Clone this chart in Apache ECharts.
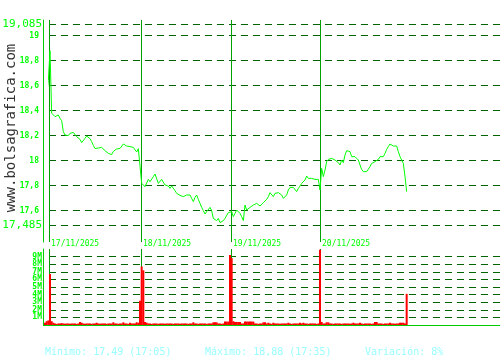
<!DOCTYPE html>
<html><head><meta charset="utf-8">
<script src="https://cdn.jsdelivr.net/npm/echarts@6/dist/echarts.min.js"></script>
<style>html,body{margin:0;padding:0;background:#fff}#c{width:500px;height:360px}</style>
</head><body><div id="c"></div>
<script>
const dates = ['17/11/2025', '18/11/2025', '19/11/2025', '20/11/2025'];
const dayStartIdx = [2.4, 57.6, 111.6, 165];
const priceTicks = [19.085, 19, 18.8, 18.6, 18.4, 18.2, 18, 17.8, 17.6, 17.485];
const priceExtremes = [19.085, 17.485];
const statTexts = ['Mínimo: 17,49 (17:05)', 'Máximo: 18,88 (17:35)', 'Variación: 8%'];
const watermark = 'www.bolsagrafica.com';

const priceDay1 = [18.418,18.418,18.64,18.88,18.38,18.392,18.352,18.36,18.365,18.338,
18.32,18.232,18.205,18.218,18.2,18.218,18.213,18.226,18.213,18.192,
18.178,18.17,18.144,18.157,18.178,18.197,18.189,18.176,18.152,18.122,
18.096,18.085,18.101,18.085,18.106,18.09,18.08,18.069,18.058,18.042,
18.048,18.074,18.09,18.093,18.106,18.098,18.109,18.133,18.144,18.117,
18.133,18.112,18.125,18.106,18.09,18.069,18.096,18.112];
const priceDay2 = [17.818,17.832,17.792,17.805,17.85,17.832,17.845,17.872,17.893,17.877,
17.818,17.805,17.85,17.85,17.805,17.813,17.797,17.778,17.797,17.786,
17.76,17.738,17.744,17.722,17.738,17.712,17.698,17.725,17.717,17.725,
17.698,17.672,17.706,17.725,17.69,17.658,17.626,17.6,17.573,17.592,
17.605,17.626,17.6,17.538,17.552,17.52,17.538,17.504,17.493,17.52,
17.538,17.552,17.584,17.597];
const priceDay3 = [17.592,17.552,17.578,17.605,17.592,17.578,17.552,17.52,17.645,17.605,
17.618,17.626,17.632,17.645,17.637,17.658,17.658,17.637,17.645,17.664,
17.658,17.69,17.712,17.744,17.738,17.712,17.738,17.725,17.744,17.733,
17.725,17.698,17.69,17.725,17.765,17.786,17.797,17.786,17.77,17.752,
17.778,17.797,17.818,17.832,17.845,17.877,17.858,17.845,17.858,17.845,
17.85,17.866,17.85];
const priceDay4 = [17.765,17.938,17.872,17.925,17.992,18.01,18.005,18.018,18.032,18.005,
18.0,17.984,17.965,18.005,17.984,18.045,18.08,18.072,18.072,18.032,
18.037,18.032,18.026,18.005,17.965,17.93,17.912,17.92,17.912,17.917,
17.952,17.978,17.984,17.992,18.005,18.01,18.032,18.018,18.032,18.058,
18.09,18.112,18.133,18.117,18.117,18.106,18.117,18.072,18.032,18.005,
17.978,17.872,17.752];

// volumes in millions
const volDay1 = [0.3,0.5,0.6,6.7,0.5,0.3,0.2,0.15,0.2,0.2,
0.25,0.2,0.15,0.2,0.2,0.15,0.2,0.2,0.2,0.15,
0.2,0.4,0.3,0.2,0.15,0.2,0.2,0.2,0.15,0.2,
0.2,0.3,0.2,0.15,0.2,0.2,0.2,0.15,0.2,0.2,
0.2,0.35,0.2,0.2,0.15,0.2,0.2,0.35,0.2,0.2,
0.15,0.3,0.2,0.2,0.2,0.35,0.3,3.2];
const volDay2 = [7.7,7.2,0.4,0.3,0.2,0.2,0.15,0.2,0.2,0.2,
0.15,0.2,0.2,0.2,0.15,0.2,0.2,0.2,0.2,0.15,
0.2,0.2,0.2,0.15,0.2,0.2,0.2,0.2,0.15,0.2,
0.2,0.35,0.2,0.2,0.15,0.2,0.2,0.2,0.2,0.15,
0.2,0.2,0.2,0.35,0.35,0.35,0.2,0.2,0.15,0.2,
0.45,0.45,0.45,9.2];
const volDay3 = [8.8,0.5,0.4,0.4,0.4,0.4,0.2,0.2,0.45,0.45,
0.45,0.45,0.45,0.45,0.2,0.2,0.15,0.2,0.2,0.35,
0.35,0.2,0.3,0.2,0.15,0.3,0.2,0.2,0.2,0.15,
0.2,0.2,0.2,0.2,0.3,0.2,0.15,0.2,0.2,0.2,
0.2,0.3,0.2,0.3,0.2,0.2,0.15,0.2,0.2,0.2,
0.2,0.15,0.2];
const volDay4 = [9.9,0.4,0.2,0.2,0.35,0.35,0.2,0.2,0.15,0.2,
0.2,0.2,0.2,0.15,0.2,0.2,0.2,0.2,0.15,0.2,
0.3,0.2,0.2,0.2,0.3,0.2,0.15,0.2,0.2,0.2,
0.2,0.15,0.2,0.4,0.4,0.2,0.2,0.2,0.15,0.2,
0.2,0.2,0.3,0.2,0.2,0.15,0.2,0.2,0.3,0.3,
0.3,0.2,4.1];

const prices = [].concat(priceDay1, priceDay2, priceDay3, priceDay4);
const volumes = [].concat(volDay1, volDay2, volDay3, volDay4);
const priceData = prices.map((v, i) => [i, v]);
const volData = volumes.map((v, i) => [i, v]);

const FONT = '"DejaVu Sans Mono", "Liberation Mono", monospace';
const GREEN = '#00ff00';
const AXIS = '#00cc00';
const DAYLINE = '#00a000';
const DASH = '#006400';
const fmtComma = v => String(v).replace('.', ',');

const chart = echarts.init(document.getElementById('c'), null, {renderer: 'canvas'});
chart.setOption({
  animation: false,
  backgroundColor: '#ffffff',
  grid: [
    {left: 49, right: 0, top: 20, height: 222, outerBoundsMode: 'none'},
    {left: 49, right: 0, top: 249, height: 76, outerBoundsMode: 'none'}
  ],
  xAxis: [
    {type: 'value', gridIndex: 0, min: 2.4, max: 273,
     axisLine: {show: false}, axisTick: {show: false}, splitLine: {show: false},
     axisLabel: {show: true, customValues: dayStartIdx, margin: -2, align: 'left',
       padding: [0, 0, 0, 2], color: GREEN, fontFamily: FONT, fontSize: 8,
       formatter: v => { const k = dayStartIdx.indexOf(v); return k >= 0 ? dates[k] : ''; }}},
    {type: 'value', gridIndex: 1, min: 2.4, max: 273,
     axisLine: {show: true, lineStyle: {color: AXIS, width: 1}}, axisTick: {show: false},
     splitLine: {show: false}, axisLabel: {show: false}}
  ],
  yAxis: [
    {type: 'value', gridIndex: 0, min: 17.349, max: 19.125, offset: 6,
     axisLine: {show: true, lineStyle: {color: AXIS, width: 1}}, axisTick: {show: false},
     splitLine: {show: false}, axisLabel: {show: false}},
    {type: 'value', gridIndex: 1, min: 0, max: 10, interval: 1, offset: 6,
     axisLine: {show: true, lineStyle: {color: AXIS, width: 1}}, axisTick: {show: false},
     splitLine: {show: true, showMinLine: false, showMaxLine: false, lineStyle: {color: DASH, type: [7, 5], width: 1}},
     axisLabel: {show: true, showMinLabel: false, showMaxLabel: false, margin: 1,
       color: GREEN, fontFamily: FONT, fontSize: 8, fontWeight: 'bold',
       formatter: v => v + 'M'}}
  ],
  series: [
    {type: 'line', xAxisIndex: 0, yAxisIndex: 0, data: [], z: 1, silent: true,
     markLine: {silent: true, z: 1, symbol: ['none', 'none'], animation: false,
       lineStyle: {color: DASH, type: [7, 5], width: 1},
       data: priceTicks.map(v => {
         const big = priceExtremes.indexOf(v) >= 0;
         return {yAxis: v, label: {show: true, position: 'start', distance: big ? 7 : 10,
           formatter: fmtComma(v), color: GREEN, fontFamily: FONT,
           fontSize: big ? 11 : 8, fontWeight: big ? 'normal' : 'bold'}};
       })}},
    {type: 'line', xAxisIndex: 0, yAxisIndex: 0, data: [], z: 1, silent: true,
     markLine: {silent: true, z: 2, symbol: ['none', 'none'], animation: false,
       lineStyle: {color: DAYLINE, type: 'solid', width: 1},
       label: {show: false},
       data: dayStartIdx.map(v => ({xAxis: v}))}},
    {type: 'line', xAxisIndex: 0, yAxisIndex: 0, data: priceData, z: 10,
     symbol: 'none', clip: false, lineStyle: {color: GREEN, width: 1}},
    {type: 'line', xAxisIndex: 1, yAxisIndex: 1, data: [], z: 1, silent: true,
     markLine: {silent: true, z: 2, symbol: ['none', 'none'], animation: false,
       lineStyle: {color: DAYLINE, type: 'solid', width: 1},
       label: {show: false},
       data: dayStartIdx.map(v => ({xAxis: v}))}},
    {type: 'bar', xAxisIndex: 1, yAxisIndex: 1, data: volData, z: 10,
     barWidth: 2, clip: false, itemStyle: {color: '#ff0000'}}
  ],
  graphic: [
    {type: 'text', x: 11, y: 128, rotation: Math.PI / 2, silent: true,
     style: {text: watermark, fill: '#333333', font: '14px ' + FONT, textAlign: 'center', textVerticalAlign: 'middle'}},
    {type: 'line', silent: true, shape: {x1: 43, y1: 325.5, x2: 49, y2: 325.5}, style: {stroke: AXIS, lineWidth: 1}},
    {type: 'text', x: 45, y: 352, silent: true, style: {text: statTexts[0], fill: '#99ffff', font: '10px ' + FONT, textVerticalAlign: 'middle'}},
    {type: 'text', x: 205, y: 352, silent: true, style: {text: statTexts[1], fill: '#99ffff', font: '10px ' + FONT, textVerticalAlign: 'middle'}},
    {type: 'text', x: 365, y: 352, silent: true, style: {text: statTexts[2], fill: '#99ffff', font: '10px ' + FONT, textVerticalAlign: 'middle'}}
  ]
});
</script>
</body></html>
